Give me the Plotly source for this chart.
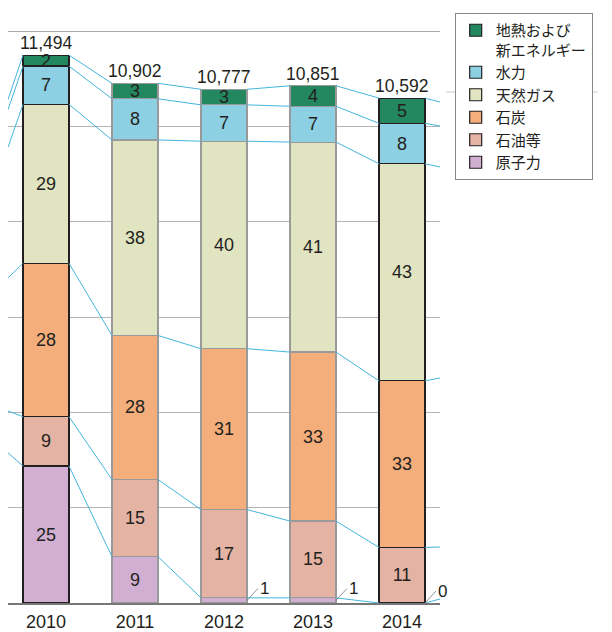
import plotly.graph_objects as go

# 発電電力量の推移（総量と電源別構成比 %）
years = ["2010", "2011", "2012", "2013", "2014"]
totals = [11494, 10902, 10777, 10851, 10592]

sources = ["原子力", "石油等", "石炭", "天然ガス", "水力", "地熱および<br>新エネルギー"]
nuclear = [25, 9, 1, 1, 0]
oil = [9, 15, 17, 15, 11]
coal = [28, 28, 31, 33, 33]
gas = [29, 38, 40, 41, 43]
hydro = [7, 8, 7, 7, 8]
geothermal = [2, 3, 3, 4, 5]
shares = [nuclear, oil, coal, gas, hydro, geothermal]

colors = ["#d1afd3", "#e4b3a3", "#f4ae7b", "#e0e4c0", "#8dd0e4", "#23875f"]

# lines that continue in from the neighbouring charts (cropped)
left_ends = [3150, 4030, 6820, 9560, 10350, 10560]
right_ends = [84, 1175, 4720, 9147, 10007, 10511]

w = 0.517
x = list(range(len(years)))
x_lo, x_hi = -0.427, 4.427
edge_colors = ["#231f20", "#9a9a9a", "#9a9a9a", "#9a9a9a", "#231f20"]

fig = go.Figure()

# stacked bars, segment heights from total x share
sums = [sum(s[i] for s in shares) for i in x]
cum = []
running = [0.0] * len(x)
for k, (name, vals, col) in enumerate(zip(sources, shares, colors)):
    seg = [totals[i] * vals[i] / sums[i] for i in x]
    running = [running[i] + seg[i] for i in x]
    cum.append(running[:])
    labels = [str(v) if (k > 0 or v >= 5) else "" for v in vals]
    fig.add_trace(go.Bar(
        x=x, y=seg, name=name, width=w,
        marker=dict(color=col, line=dict(color=edge_colors, width=1.2)),
        text=labels, textposition="inside", insidetextanchor="middle",
        textangle=0, textfont=dict(size=18, color="#231f20"),
        hoverinfo="skip",
    ))

# connecting lines between the bars
for k in range(len(shares)):
    lx = [x_lo, -w / 2, None]
    ly = [left_ends[k], cum[k][0], None]
    for i in range(len(x) - 1):
        lx += [i + w / 2, i + 1 - w / 2, None]
        ly += [cum[k][i], cum[k][i + 1], None]
    lx += [x[-1] + w / 2, x_hi]
    ly += [cum[k][-1], right_ends[k]]
    fig.add_trace(go.Scatter(
        x=lx, y=ly, mode="lines", showlegend=False, hoverinfo="skip",
        line=dict(color="#45b5dc", width=1),
    ))

# totals above bars
for i in x:
    fig.add_annotation(x=i, y=totals[i], text=f"{totals[i]:,}", showarrow=False,
                       yanchor="bottom", font=dict(size=17.5, color="#231f20"))

# small nuclear shares with leader lines
for i in x:
    if nuclear[i] < 5:
        fig.add_annotation(x=i + w / 2, y=cum[0][i] / 2, text=str(nuclear[i]),
                           showarrow=True, arrowhead=0, arrowwidth=0.8,
                           arrowcolor="#777777", ax=11, ay=-12,
                           xanchor="left", yanchor="middle",
                           font=dict(size=17, color="#231f20"))

fig.add_shape(type="line", xref="paper", yref="y", x0=0, x1=1, y0=12000, y1=12000,
              line=dict(color="#555555", width=1.2))
fig.add_shape(type="line", xref="paper", yref="paper", x0=1.014, x1=1.365,
              y0=0.8934, y1=0.8934, line=dict(color="#cccccc", width=1.2))

fig.update_layout(
    width=604, height=624,
    margin=dict(l=0, r=172, t=23, b=29),
    barmode="stack",
    plot_bgcolor="white", paper_bgcolor="white",
    font=dict(family="Liberation Sans, Noto Sans CJK JP", color="#231f20"),
    uniformtext=dict(minsize=18, mode="show"),
    legend=dict(
        x=1.034, y=1.0315, xanchor="left", yanchor="top",
        traceorder="reversed", valign="top",
        bordercolor="#888888", borderwidth=1, bgcolor="white",
        font=dict(family="Noto Sans CJK JP", size=15, color="#231f20"),
    ),
    xaxis=dict(
        range=[x_lo, x_hi], tickvals=x, ticktext=years,
        tickfont=dict(size=18), ticks="outside", ticklen=2,
        tickcolor="rgba(0,0,0,0)", showgrid=False, zeroline=False,
        showline=True, linecolor="#777777", linewidth=1.5, automargin=False,
    ),
    yaxis=dict(
        range=[0, 12000], dtick=2000, showticklabels=False,
        showgrid=True, gridcolor="#b4b4b4", gridwidth=1,
        zeroline=False, automargin=False,
    ),
)

fig.write_html("out.html")
